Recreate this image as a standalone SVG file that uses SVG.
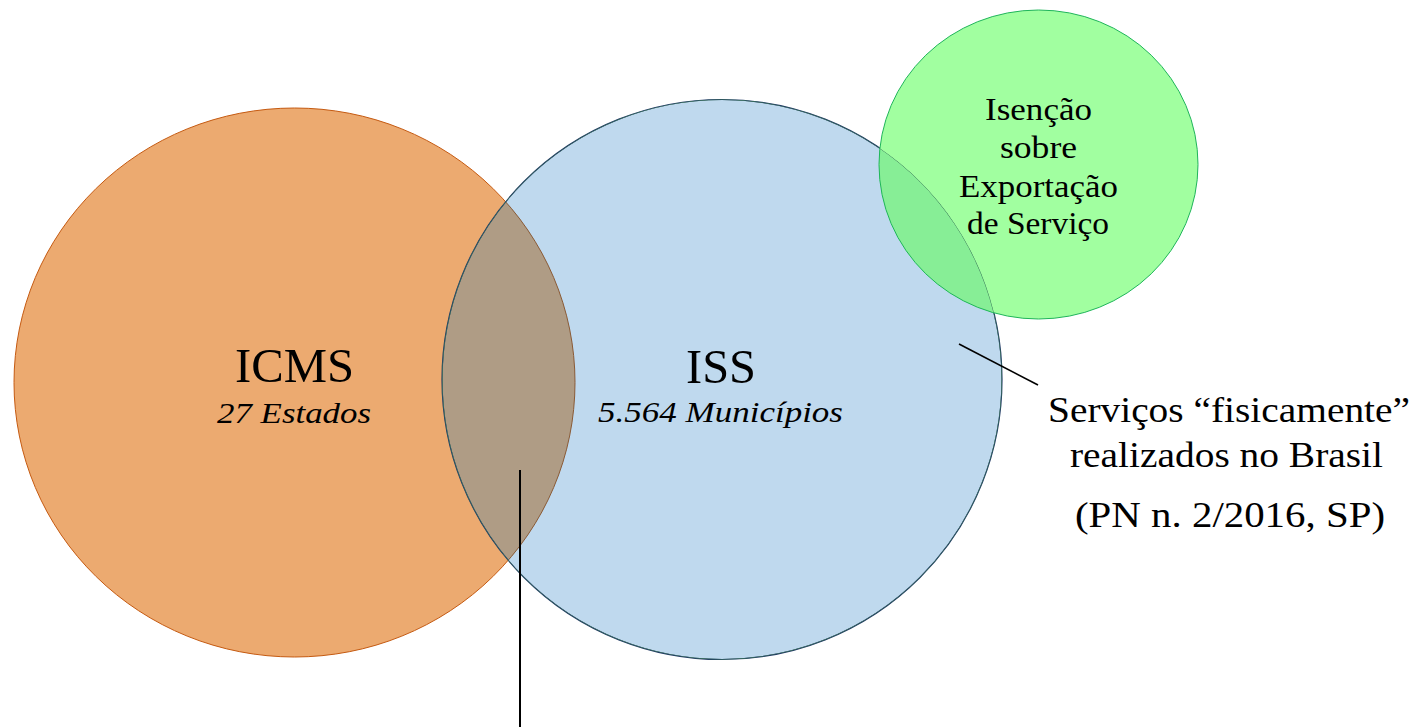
<svg xmlns="http://www.w3.org/2000/svg" width="1417" height="727" viewBox="0 0 1417 727">
<style>
text{font-family:'Liberation Serif','Times New Roman',Tinos,serif;fill:#000;text-anchor:middle}
.big{font-size:48px}
.it{font-size:30px;font-style:italic}
.side{font-size:36px}
.grn{font-size:32px}
.conn{stroke:#000;fill:none}
</style>
<defs>
<clipPath id="clipIss"><circle cx="722" cy="379.5" r="280"/></clipPath>
</defs>
<g id="icms">
<ellipse cx="294.5" cy="382.5" rx="280.5" ry="274.5" fill="#ECAA70" stroke="#C55A11" stroke-width="1"/>
</g>
<g id="iss">
<circle cx="722" cy="379.5" r="280" fill="#BFD9EE"/>
<ellipse cx="294.5" cy="382.5" rx="280.5" ry="274.5" fill="#AF9C85" clip-path="url(#clipIss)"/>
<ellipse cx="294.5" cy="382.5" rx="280.5" ry="274.5" fill="none" stroke="#8A5A35" stroke-width="1" clip-path="url(#clipIss)"/>
<circle cx="722" cy="379.5" r="280" fill="none" stroke="#1F3864" stroke-width="1.2"/>
</g>
<g id="isencao">
<ellipse cx="1038.5" cy="164.5" rx="159.5" ry="154.5" fill="#A1FFA0"/>
<g clip-path="url(#clipIss)"><ellipse cx="1038.5" cy="164.5" rx="159.5" ry="154.5" fill="#87EE96"/><circle cx="722" cy="379.5" r="280" fill="none" stroke="#3E7A5A" stroke-width="1"/></g>
<ellipse cx="1038.5" cy="164.5" rx="159.5" ry="154.5" fill="none" stroke="#1FB55A" stroke-width="1"/>
<text class="grn" x="1038.5" y="120" textLength="107" lengthAdjust="spacingAndGlyphs">Isenção</text>
<text class="grn" x="1038.5" y="158" textLength="77" lengthAdjust="spacingAndGlyphs">sobre</text>
<text class="grn" x="1038.5" y="197" textLength="159" lengthAdjust="spacingAndGlyphs">Exportação</text>
<text class="grn" x="1038" y="234" textLength="142" lengthAdjust="spacingAndGlyphs">de Serviço</text>
</g>
<g id="labels">
<text class="big" x="294.5" y="382" textLength="119" lengthAdjust="spacingAndGlyphs">ICMS</text>
<text class="it" x="294" y="423" textLength="154" lengthAdjust="spacingAndGlyphs">27 Estados</text>
<text class="big" x="721" y="383" textLength="70" lengthAdjust="spacingAndGlyphs">ISS</text>
<text class="it" x="720.5" y="422" textLength="245" lengthAdjust="spacingAndGlyphs">5.564 Municípios</text>
</g>
<g id="note">
<text class="side" x="1229" y="422" textLength="362" lengthAdjust="spacingAndGlyphs">Serviços “fisicamente”</text>
<text class="side" x="1226.5" y="467" textLength="313" lengthAdjust="spacingAndGlyphs">realizados no Brasil</text>
<text class="side" x="1230" y="527" textLength="310" lengthAdjust="spacingAndGlyphs">(PN n. 2/2016, SP)</text>
</g>
<g id="connectors">
<line class="conn" x1="959" y1="344" x2="1038" y2="385" stroke-width="1.6"/>
<line class="conn" x1="520" y1="470" x2="520" y2="727" stroke-width="2"/>
</g>
</svg>
